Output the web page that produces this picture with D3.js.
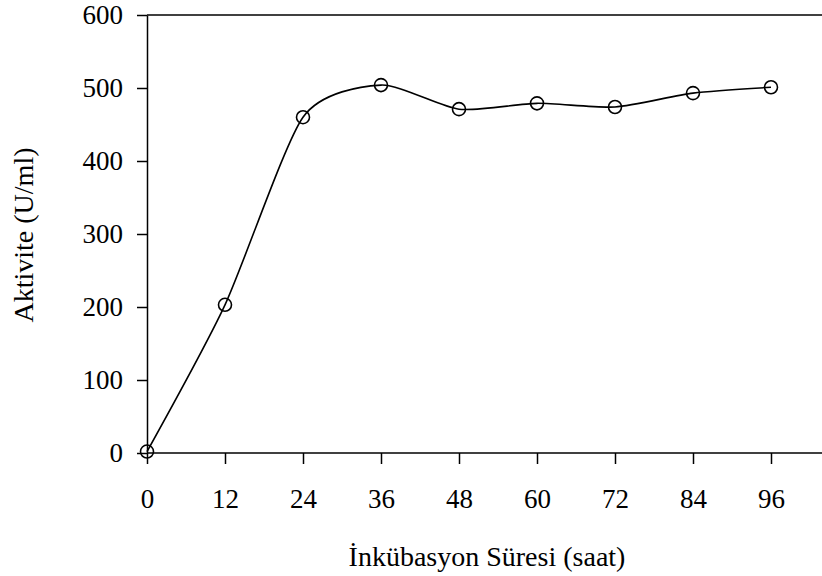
<!DOCTYPE html>
<html>
<head>
<meta charset="utf-8">
<script src="https://cdn.jsdelivr.net/npm/d3@7"></script>
<style>
  body { margin: 0; background: #fff; }
  text { font-family: "Liberation Serif", "Times New Roman", serif; fill: #000; }
</style>
</head>
<body>
<svg id="chart"></svg>
<script>
// data
var hours = [0, 12, 24, 36, 48, 60, 72, 84, 96];
var activity = [2, 203, 460, 504, 471, 479, 474, 493, 501];
var xTicks = [0, 12, 24, 36, 48, 60, 72, 84, 96];
var yTicks = [0, 100, 200, 300, 400, 500, 600];

var container = { width: 822, height: 576 };
var margin = { left: 147, top: 15, bottom: 123 };

var svg = d3.select('#chart')
  .attr('width', container.width)
  .attr('height', container.height);

// 12 hours ~ 78px
var x = d3.scaleLinear().domain([0, 96]).range([margin.left, margin.left + 624]);
var y = d3.scaleLinear().domain([0, 600]).range([container.height - margin.bottom, margin.top]);

var plotBottom = y(0), plotTop = y(600);

// x axis
var xAxis = svg.append('g')
  .attr('transform', 'translate(0,' + plotBottom + ')')
  .call(d3.axisBottom(x).tickValues(xTicks).tickSize(11).tickPadding(25).tickSizeOuter(0));
xAxis.select('.domain').attr('d', 'M' + margin.left + ',0H' + container.width);

// y axis
var yAxis = svg.append('g')
  .attr('transform', 'translate(' + margin.left + ',0)')
  .call(d3.axisLeft(y).tickValues(yTicks).tickSize(10).tickPadding(14).tickSizeOuter(0));

[xAxis, yAxis].forEach(function (g) {
  g.attr('font-size', 27).attr('font-family', '"Liberation Serif", serif');
  g.selectAll('.tick text').attr('font-size', 27).style('font-size', '27px');
});

// top border
svg.append('line')
  .attr('x1', margin.left).attr('x2', container.width)
  .attr('y1', plotTop).attr('y2', plotTop)
  .attr('stroke', '#000').attr('stroke-width', 1.5);

svg.selectAll('.domain, .tick line').attr('stroke', '#000').attr('stroke-width', 1.5);

// smoothed line
var pts = hours.map(function (h, i) { return [h, activity[i]]; });
var line = d3.line()
  .x(function (d) { return x(d[0]); })
  .y(function (d) { return y(d[1]); })
  .curve(d3.curveCardinal.tension(0.3));

svg.append('path')
  .attr('d', line(pts))
  .attr('fill', 'none')
  .attr('stroke', '#000')
  .attr('stroke-width', 1.6);

svg.selectAll('circle.pt')
  .data(pts)
  .enter().append('circle')
  .attr('class', 'pt')
  .attr('cx', function (d) { return x(d[0]); })
  .attr('cy', function (d) { return y(d[1]); })
  .attr('r', 6.5)
  .attr('fill', 'none')
  .attr('stroke', '#000')
  .attr('stroke-width', 1.6);

// axis titles
svg.append('text')
  .attr('x', 487).attr('y', 566)
  .attr('text-anchor', 'middle')
  .style('font-size', '28px')
  .text('İnkübasyon Süresi (saat)');

svg.append('text')
  .attr('transform', 'translate(33,235) rotate(-90)')
  .attr('text-anchor', 'middle')
  .style('font-size', '28px')
  .text('Aktivite (U/ml)');
</script>
</body>
</html>
